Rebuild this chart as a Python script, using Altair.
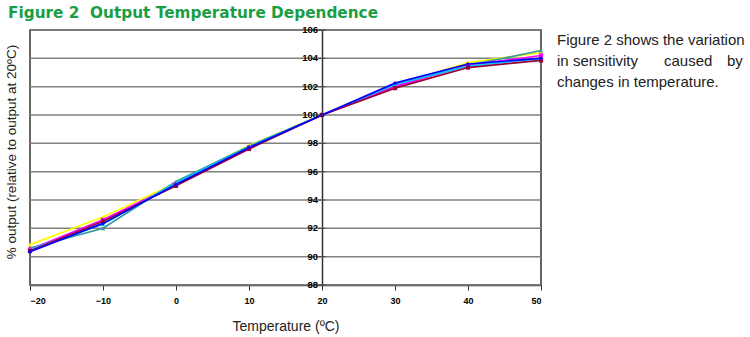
import altair as alt
import pandas as pd

temps = [-20, -10, 0, 10, 20, 30, 40, 50]
y_ticks = [88, 90, 92, 94, 96, 98, 100, 102, 104, 106]
series_names = ["S1", "S2", "S3", "S4", "S5", "S6"]
s1 = [90.85, 92.8, 95.2, 97.85, 100.0, 102.1, 103.7, 104.4]
s2 = [90.6, 92.0, 95.3, 97.8, 100.0, 102.1, 103.5, 104.55]
s3 = [90.5, 92.6, 95.1, 97.7, 100.0, 102.0, 103.5, 104.2]
s4 = [90.5, 92.3, 95.2, 97.75, 100.0, 102.15, 103.45, 104.0]
s5 = [90.4, 92.5, 95.0, 97.6, 100.0, 101.9, 103.35, 103.85]
s6 = [90.35, 92.35, 95.1, 97.7, 100.0, 102.25, 103.6, 104.0]
colors = ["#FFFF00", "#339999", "#FF00FF", "#00CCFF", "#990033", "#0000FF"]
shapes = ["triangle-up", "triangle-up", "square", "triangle-up", "square", "diamond"]

rows = []
for name, vals, order in zip(series_names, [s1, s2, s3, s4, s5, s6], range(6)):
    for t, v in zip(temps, vals):
        rows.append({"series": name, "temp": t, "val": v, "ord": order})
df = pd.DataFrame(rows)

W, H = 511, 255

xscale = alt.Scale(domain=[-20, 50], nice=False, zero=False)
yscale = alt.Scale(domain=[88, 106], nice=False, zero=False)
cscale = alt.Scale(domain=series_names, range=colors)
shscale = alt.Scale(domain=series_names, range=shapes)

tickdf = pd.DataFrame({"v": y_ticks})

grid = alt.Chart(tickdf).mark_rule(color="#808080", strokeWidth=1.5).encode(
    y=alt.Y("v:Q", scale=yscale,
            axis=alt.Axis(offset=-292, grid=False, labels=False, ticks=False,
                          domainColor="#333", domainWidth=1.5, title=None))
)

xenc = alt.X("temp:Q", scale=xscale,
             axis=alt.Axis(values=temps, grid=False, labelFontWeight="bold", labelFontSize=9,
                           labelFont="Liberation Sans", labelColor="black", labelPadding=6,
                           labelOverlap=False,
                           tickColor="#333", domainColor="#333", domainWidth=1.5, tickSize=5,
                           title="Temperature (ºC)", titleFont="Liberation Sans",
                           titleFontSize=14, titleFontWeight="normal", titleColor="#222",
                           titlePadding=14))

base = alt.Chart(df)

lines = base.mark_line(strokeWidth=1.7).encode(
    x=xenc, y=alt.Y("val:Q"),
    color=alt.Color("series:N", scale=cscale, legend=None),
    order=alt.Order("ord:Q"),
    detail="series:N",
)

points = base.mark_point(filled=True, size=18, opacity=1).encode(
    x=alt.X("temp:Q"),
    y=alt.Y("val:Q"),
    color=alt.Color("series:N", scale=cscale, legend=None),
    shape=alt.Shape("series:N", scale=shscale, legend=None),
)

yticks = alt.Chart(tickdf).mark_tick(orient="horizontal", size=7, thickness=1.2, color="#333").encode(
    x=alt.datum(20), y=alt.Y("v:Q")
)

ylabels = alt.Chart(tickdf).mark_text(
    align="right", baseline="middle", fontSize=9.5, fontWeight="bold",
    font="Liberation Sans", color="black", dx=-4
).encode(x=alt.datum(20), y=alt.Y("v:Q"), text=alt.Text("v:Q"))


def label(txt, x, y, **kw):
    return alt.Chart(pd.DataFrame({"t": [txt]})).mark_text(**kw).encode(
        text="t:N", x=alt.value(x), y=alt.value(y))


body = dict(align="left", baseline="middle", fontSize=15, font="Liberation Sans", color="#222")

title = label("Figure 2\u00a0\u00a0Output Temperature Dependence", -22, -17,
              align="left", baseline="middle", fontSize=15.3, fontWeight="bold",
              font="DejaVu Sans", color="#1A9E45")
ytitle = label("% output (relative to output at 20ºC)", -18, 122,
               align="center", baseline="middle", fontSize=13.5, angle=270,
               font="Liberation Sans", color="#222")

desc_lines = ["Figure 2 shows the variation", "changes in temperature."]
desc_y = [10, 52]
words = ["in", "sensitivity", "caused", "by"]
word_x = [527, 543, 634, 697]

texts = [label(t, 527, y, **body) for t, y in zip(desc_lines, desc_y)]
texts += [label(w, x, 31, **body) for w, x in zip(words, word_x)]

chart = alt.layer(grid, lines, points, yticks, ylabels, title, ytitle, *texts).properties(
    width=W, height=H,
    autosize="none",
    padding={"left": 30, "top": 30, "right": 209, "bottom": 52},
).configure_view(stroke="#333", strokeWidth=1.5)

chart.save("out.html", embed_options={"renderer": "svg", "actions": False})
